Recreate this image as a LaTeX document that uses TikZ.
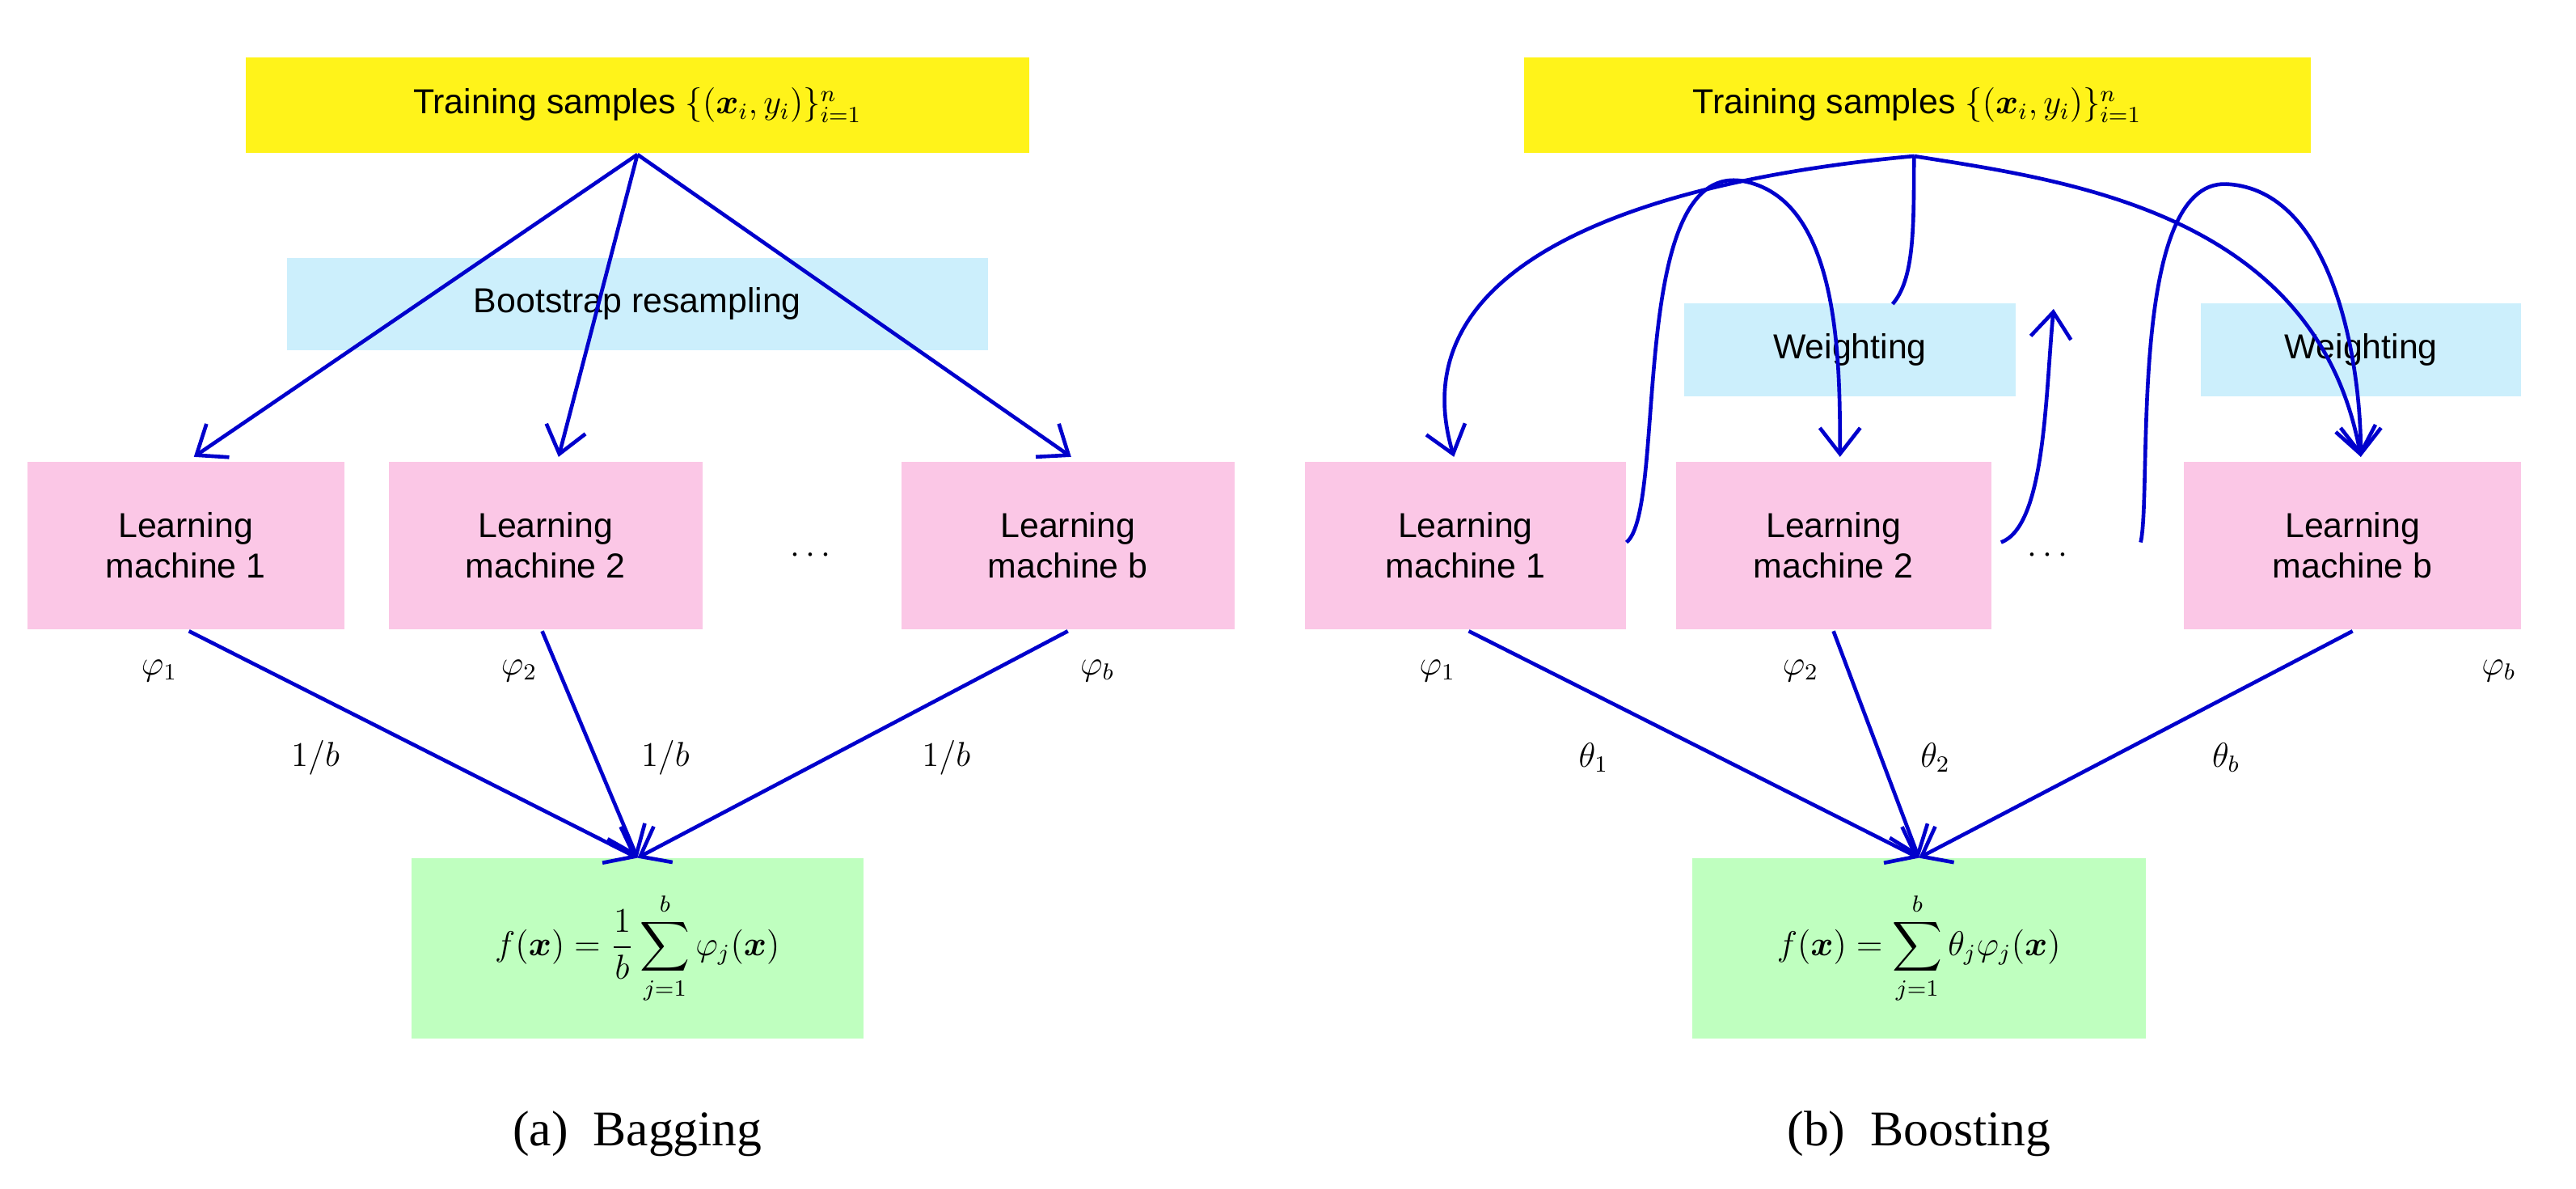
\documentclass[tikz,border=0pt]{standalone}
\usepackage{amsmath,amssymb}
\usepackage{fontspec}
\setmainfont{Liberation Sans}
\newfontfamily\capfont{Liberation Serif}
\usetikzlibrary{arrows.meta}
\newcommand{\bx}{\boldsymbol{x}}
\begin{document}
\begin{tikzpicture}[x=0.02cm,y=-0.02cm,
  box/.style={minimum width=#1*0.02cm,inner sep=0pt,align=center,font=\large},
  yel/.style={box=#1,fill=yellow!90!white,minimum height=1.16cm},
  blu/.style={box=#1,fill=cyan!20,minimum height=1.13cm},
  pnk/.style={box=#1,fill=magenta!22,minimum height=2.04cm},
  grn/.style={box=#1,fill=green!25,minimum height=2.2cm},
  ar/.style={draw=blue!80!black,line width=1.3pt,-{Straight Barb[length=9pt,width=14pt,line width=1.3pt]}},
  ln/.style={draw=blue!80!black,line width=1.3pt},
  lab/.style={font=\large},
  captxt/.style={font=\capfont\LARGE}]
\useasboundingbox (0,0) rectangle (1568,723);
% Bagging
\node[yel=477] (ta) at (388,64) {Training samples $\{(\bx_i,y_i)\}_{i=1}^n$};
\node[blu=427] (bs) at (388,185) {Bootstrap resampling};
\node[pnk=193] (a1) at (113,332) {Learning\\machine 1};
\node[pnk=191] (a2) at (332,332) {Learning\\machine 2};
\node[pnk=203] (ab) at (650,332) {Learning\\machine b};
\node[lab] (ad) at (495,338) {$\cdots$};
\node[grn=275] (fa) at (388,577) {$f(\bx)=\dfrac{1}{b}\displaystyle\sum_{j=1}^{b}\varphi_j(\bx)$};
\coordinate (ts) at (388,94);
\coordinate (fat) at (388,522);
\draw[ar] (ts) -- (118,278);
\draw[ar] (ts) -- (340,278);
\draw[ar] (ts) -- (652,278);
\draw[ar] (115,384) -- (fat);
\draw[ar] (330,384) -- (fat);
\draw[ar] (650,384) -- (fat);
\node[lab] (p1) at (97,408) {$\varphi_1$};
\node[lab] (p2) at (316,408) {$\varphi_2$};
\node[lab] (pb) at (668,408) {$\varphi_b$};
\node[lab] (w1) at (192,461) {$1/b$};
\node[lab] (w2) at (405,461) {$1/b$};
\node[lab] (wb) at (576,461) {$1/b$};
\node[captxt] (ca) at (388,690) {(a)\ \ Bagging};
% Boosting
\node[yel=479] (tb) at (1167,64) {Training samples $\{(\bx_i,y_i)\}_{i=1}^n$};
\node[blu=202] (g1) at (1126,213) {Weighting};
\node[blu=195] (g2) at (1437,213) {Weighting};
\node[pnk=195] (b1) at (892,332) {Learning\\machine 1};
\node[pnk=192] (b2) at (1116,332) {Learning\\machine 2};
\node[pnk=205] (bb) at (1432,332) {Learning\\machine b};
\node[lab] (bd) at (1248,338) {$\cdots$};
\node[grn=276] (fb) at (1168,577) {$f(\bx)=\displaystyle\sum_{j=1}^{b}\theta_j\varphi_j(\bx)$};
\coordinate (tbs) at (1165,95);
\coordinate (fbt) at (1168,522);
\draw[ar] (tbs) .. controls (1000,110) and (850,160) .. (885,278);
\draw[ln] (tbs) .. controls (1165,140) and (1165,170) .. (1152,185);
\draw[ar] (tbs) .. controls (1260,110) and (1410,130) .. (1437,278);
\draw[ar] (990,330) .. controls (1015,310) and (990,100) .. (1060,110) .. controls (1120,120) and (1120,220) .. (1120,278);
\draw[ar] (1218,330) .. controls (1245,320) and (1245,240) .. (1250,188);
\draw[ar] (1303,330) .. controls (1310,300) and (1295,110) .. (1355,112) .. controls (1420,115) and (1437,220) .. (1437,278);
\draw[ar] (894,384) -- (fbt);
\draw[ar] (1116,384) -- (fbt);
\draw[ar] (1432,384) -- (fbt);
\node[lab] (q1) at (875,408) {$\varphi_1$};
\node[lab] (q2) at (1096,408) {$\varphi_2$};
\node[lab] (qb) at (1521,408) {$\varphi_b$};
\node[lab] (t1) at (970,461) {$\theta_1$};
\node[lab] (t2) at (1178,461) {$\theta_2$};
\node[lab] (tb2) at (1355,461) {$\theta_b$};
\node[captxt] (cb) at (1168,690) {(b)\ \ Boosting};
\end{tikzpicture}
\end{document}
